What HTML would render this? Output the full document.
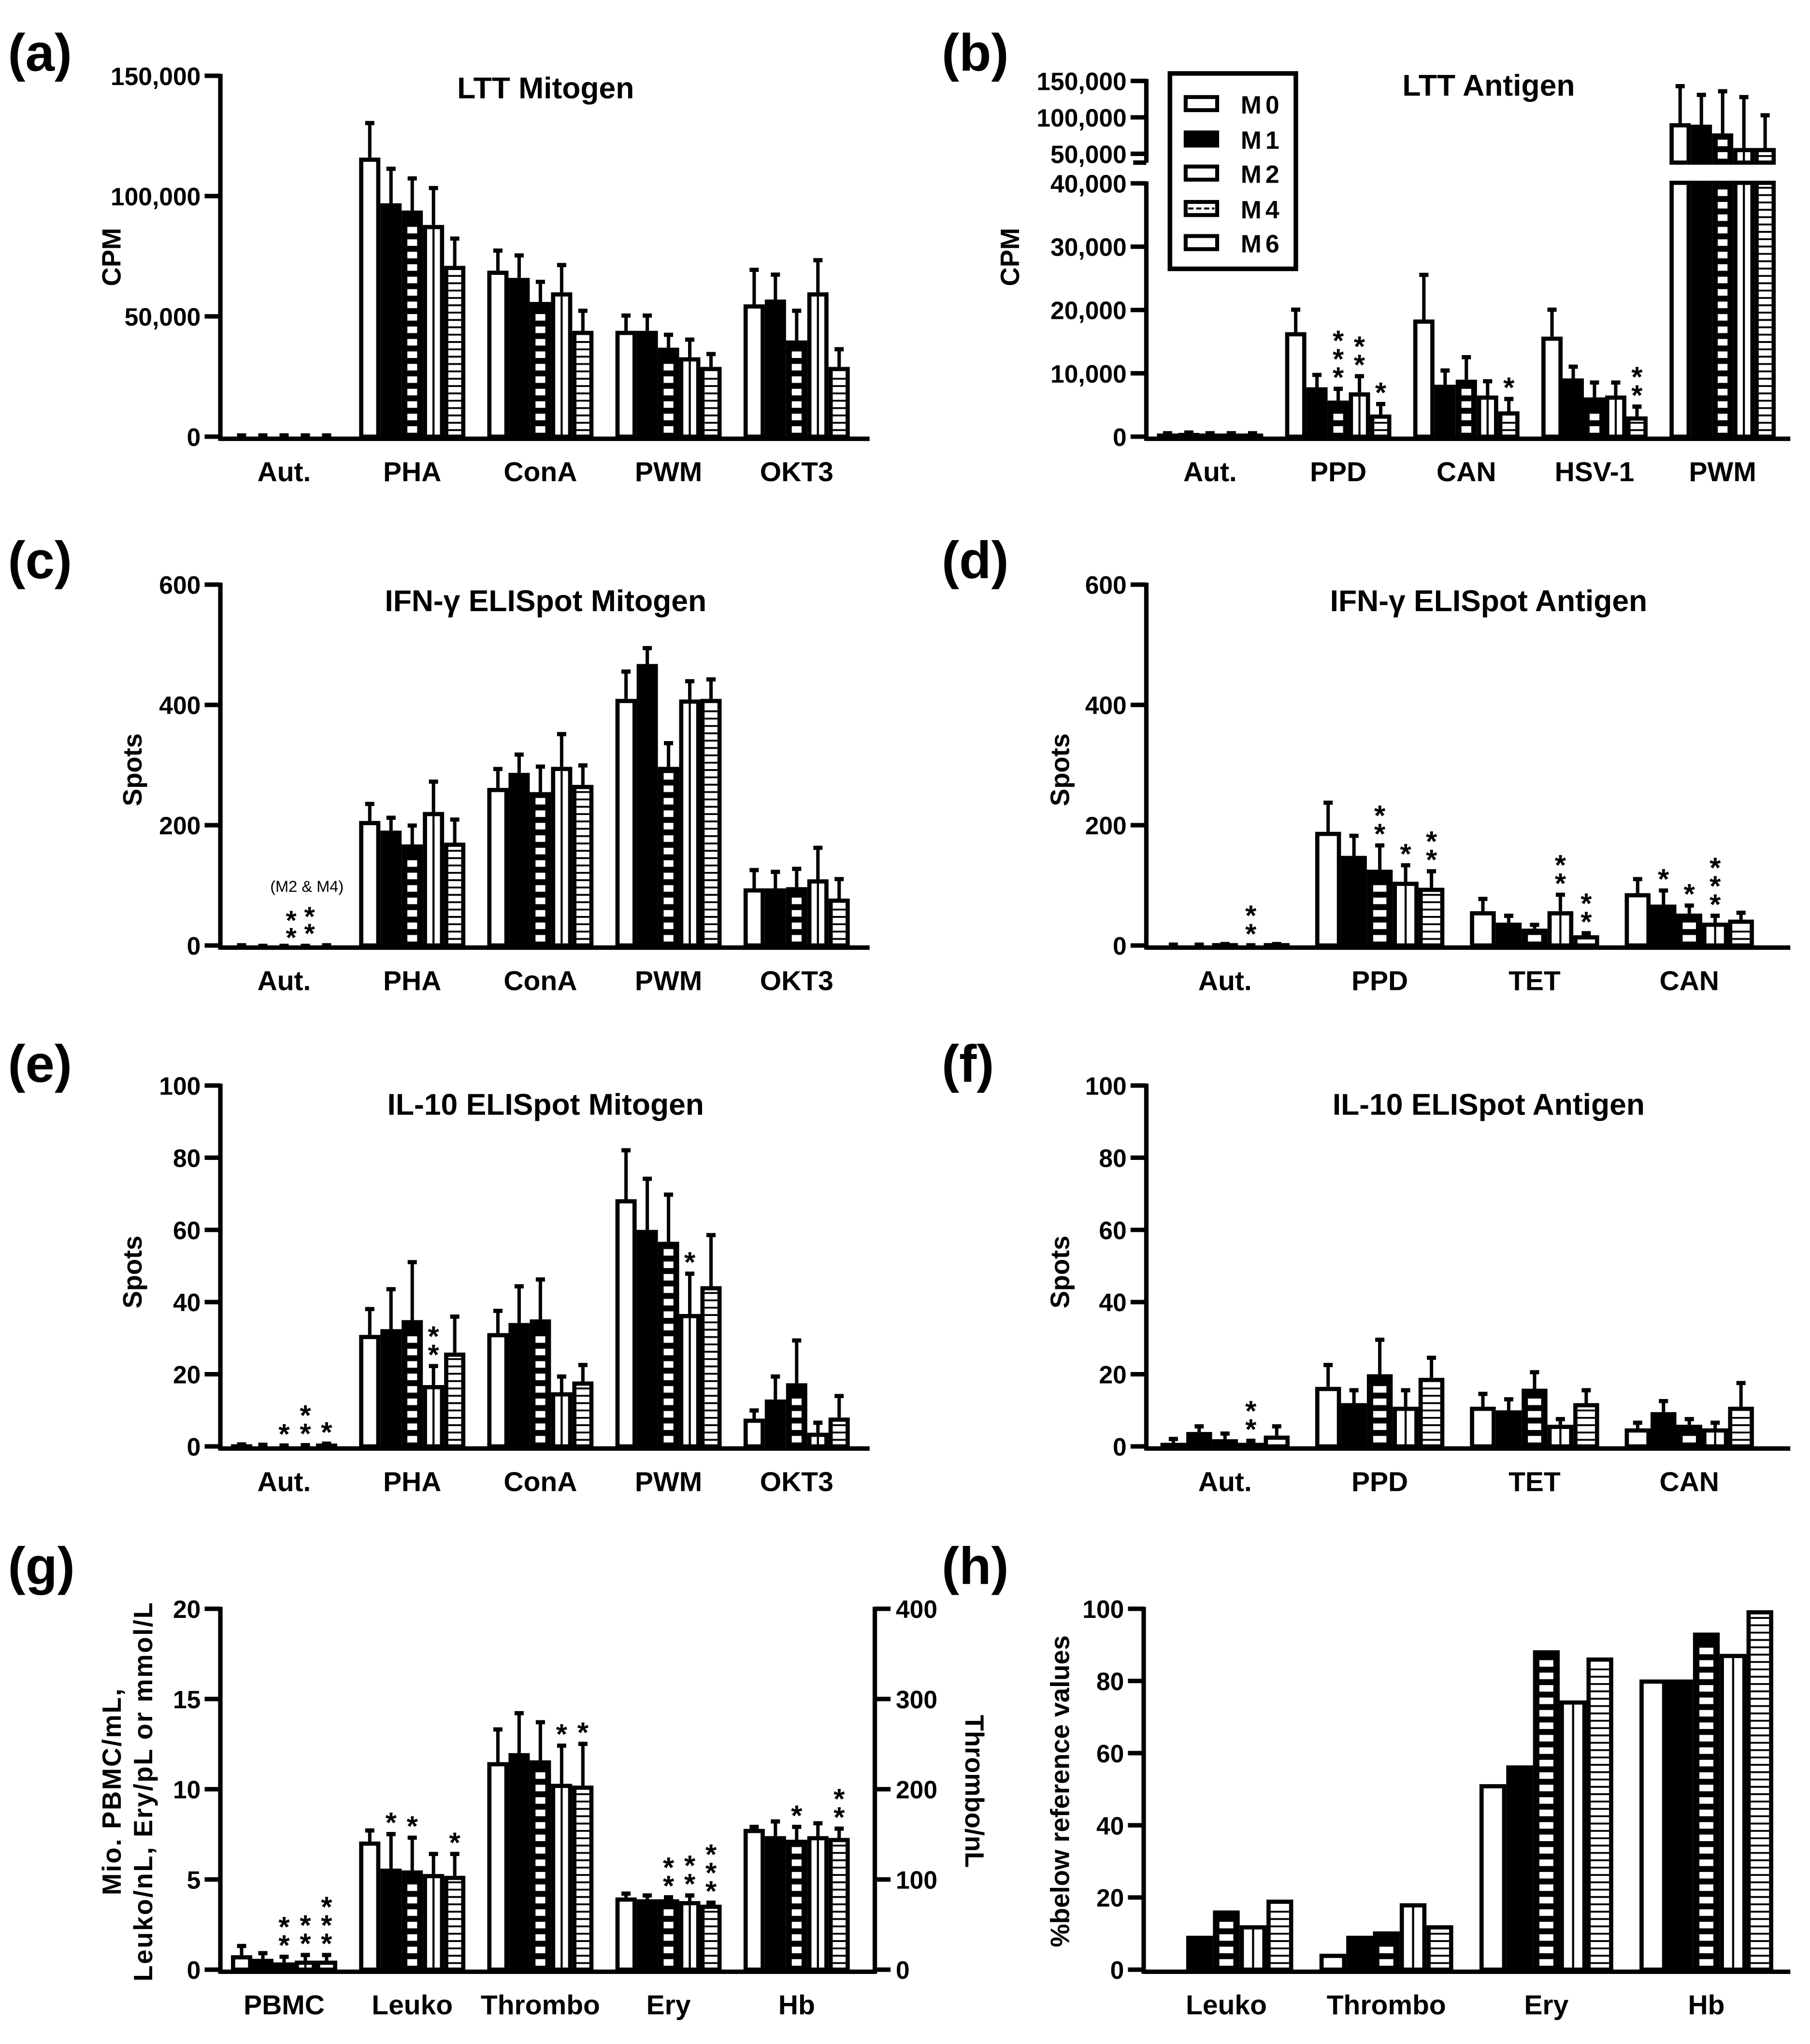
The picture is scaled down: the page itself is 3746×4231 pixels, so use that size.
<!DOCTYPE html>
<html><head><meta charset="utf-8"><style>
html,body{margin:0;padding:0;background:#fff;}
svg{display:block;}
text{font-family:"Liberation Sans",Arial,sans-serif;font-weight:bold;fill:#000;}
</style></head>
<body>
<svg id="fig" width="3746" height="4231" viewBox="0 0 1380 1558.7" xmlns="http://www.w3.org/2000/svg">
<rect width="1380" height="1558.7" fill="#fff"/>
</svg>
<script>
// ---------- data ----------
const seriesNames = ["M0","M1","M2","M4","M6"];
// (a) LTT Mitogen
const aCats = ["Aut.","PHA","ConA","PWM","OKT3"];
const aMeans = [[600,600,600,600,600],[116000,97000,94000,88000,71000],[69000,66000,56000,60000,44000],[44000,44000,37000,33000,29000],[55000,57000,40000,60000,29000]];
const aErrs  = [[1200,1200,1200,1200,1200],[131000,112000,108000,104000,83000],[78000,76000,65000,72000,53000],[51000,51000,43000,41000,35000],[70000,68000,53000,74000,37000]];
const aTicks = [0,50000,100000,150000];
const aTickLabels = ["0","50,000","100,000","150,000"];
// (b) LTT Antigen
const bCats = ["Aut.","PPD","CAN","HSV-1","PWM"];
const bMeans = [[500,600,500,500,500],[16500,7800,5700,7000,3500],[18500,8200,9000,6500,4000],[15800,9200,6200,6500,3200],[92000,90000,78000,58000,58000]];
const bErrs  = [[800,900,800,800,800],[20300,10000,7800,9800,5400],[25800,10700,12800,9000,6200],[20300,11300,8800,8800,5000],[145000,133000,138000,130000,105000]];
const bTicks = [0,10000,20000,30000,40000,50000,100000,150000];
const bTickLabels = ["0","10,000","20,000","30,000","40,000","50,000","100,000","150,000"];
// (c) IFN-g Mitogen
const cCats = ["Aut.","PHA","ConA","PWM","OKT3"];
const cMeans = [[2,1,1,1,2],[207,191,168,222,171],[262,287,255,297,267],[410,468,297,409,410],[95,95,97,110,78]];
const cErrs  = [[3,2,2,2,3],[238,215,202,275,212],[296,320,300,354,302],[458,497,339,442,445],[128,125,130,165,113]];
const cTicks = [0,200,400,600];
// (d) IFN-g Antigen
const dCats = ["Aut.","PPD","TET","CAN"];
const dMeans = [[3,3,4,2,4],[189,149,126,106,96],[57,38,28,57,17],[87,68,53,38,43]];
const dErrs  = [[4,4,5,3,5],[240,185,169,136,126],[80,52,37,87,23],[113,94,69,52,57]];
// (e) IL-10 Mitogen
const eCats = ["Aut.","PHA","ConA","PWM","OKT3"];
const eMeans = [[0.6,0.5,0.4,0.4,0.8],[30.9,32.5,35,17,26],[31.4,34.2,35.2,15,18],[68.5,60,56.7,36.7,44.4],[7.7,13,17.5,3.8,8]];
const eErrs  = [[1,0.9,0.7,0.8,1.2],[38.5,44,51.5,22.7,36.4],[38,44.8,46.7,19.8,23],[82.5,74.6,70.2,48.3,59],[10.4,19.8,29.8,7,14.4]];
const eTicks = [0,20,40,60,80,100];
// (f) IL-10 Antigen
const fCats = ["Aut.","PPD","TET","CAN"];
const fMeans = [[1,4,2,1,3],[16.5,12,20,11,19],[11,10,16,6,12],[5,9.5,6,5,11]];
const fErrs  = [[2.5,6,4,2,6],[23,16,30,16,25],[15,13.5,21,8,16],[7,13,8,7,18]];
// (g) blood counts
const gCats = ["PBMC","Leuko","Thrombo","Ery","Hb"];
const gMeans = [[0.8,0.6,0.4,0.5,0.5],[7.1,5.6,5.5,5.3,5.2],[11.5,12.0,11.6,10.3,10.2],[4.0,3.9,3.9,3.8,3.6],[7.8,7.4,7.2,7.4,7.3]];
const gErrs  = [[1.4,1.0,0.8,0.9,0.9],[7.8,7.6,7.4,6.5,6.5],[13.4,14.3,13.8,12.5,12.6],[4.3,4.2,4.1,4.2,3.8],[8.0,8.3,8.0,8.2,7.9]];
const gTicks = [0,5,10,15,20];
const gRightTicks = [0,100,200,300,400];
// (h) % below reference
const hCats = ["Leuko","Thrombo","Ery","Hb"];
const hMeans = [[0,9.4,16.4,12.3,19.4],[4.4,9.4,10.6,18.4,12.3],[51.4,56.6,88.5,74.6,86.5],[80.4,80.4,93.4,87.5,99.6]];
const hTicks = [0,20,40,60,80,100];
// significance stars: [category, series, count]
const bStars = [[1,2,3],[1,3,2],[1,4,1],[2,4,1],[3,4,2]];
const dStars = [[0,3,2],[1,2,2],[1,3,1],[1,4,2],[2,3,2],[2,4,2],[3,1,1],[3,2,1],[3,3,3]];
const eStars = [[0,2,1],[0,3,2],[0,4,1],[1,3,2],[3,3,1]];
const fStars = [[0,3,2]];
const gStars = [[0,2,2],[0,3,2],[0,4,3],[1,1,1],[1,2,1],[1,4,1],[2,3,1],[2,4,1],[3,2,2],[3,3,2],[3,4,3],[4,2,1],[4,4,2]];

// ---------- drawing ----------
const NS = "http://www.w3.org/2000/svg";
const svg = document.getElementById("fig");
function el(tag, attrs, parent){
  const e = document.createElementNS(NS, tag);
  for (const k in attrs) e.setAttribute(k, attrs[k]);
  (parent||svg).appendChild(e);
  return e;
}
function txt(str, x, y, size, anchor, parent, extra){
  const t = el("text", Object.assign({x:x, y:y, "font-size":size, "text-anchor":anchor||"middle"}, extra||{}), parent);
  t.textContent = str;
  return t;
}

function drawBar(g, x, w, yTop, yBot, type){
  if (yBot - yTop < 0.5) yTop = yBot - 0.5;
  const r = el("rect", {x:x+1.6, y:yTop+1.6, width:w-3.2, height:Math.max(0,yBot-yTop-1.6), fill:(type===1||type===2)?"#000":"#fff", stroke:"#000", "stroke-width":3.2}, g);
  
  
  const ix = x+3.2, iw = w-6.4;
  if (type===2){
    for (let yy = yBot-3; yy - 5 > yTop+4; yy -= 9.5){
      el("rect", {x:ix+iw*0.12, y:yy-5, width:iw*0.76, height:5, fill:"#fff"}, g);
    }
  } else if (type===3){
    el("line", {x1:x+w/2, x2:x+w/2, y1:yTop+3, y2:yBot, stroke:"#000", "stroke-width":1.6}, g);
  } else if (type===4){
    for (let yy = yBot-5; yy > yTop+4; yy -= 5.6){
      el("line", {x1:ix, x2:ix+iw, y1:yy, y2:yy, stroke:"#000", "stroke-width":1.4}, g);
    }
  }
}
function drawErr(g, cx, y1, y2){
  el("line", {x1:cx, x2:cx, y1:y1, y2:y2, stroke:"#000", "stroke-width":2.6}, g);
  el("line", {x1:cx-3.5, x2:cx+3.5, y1:y2+1.2, y2:y2+1.2, stroke:"#000", "stroke-width":3.2}, g);
}
function drawStars(g, cx, yStart, n){
  for (let k=0;k<n;k++){
    const t = txt("*", cx, yStart - k*14 + 12, 22, "middle", g);
    
    
  }
}

function panel(o){
  const g = el("g", {});
  
  
  const L = txt(o.letter, o.letterX, o.letterY, 40, "start", g);
  
  
  if (o.title){
    const T = txt(o.title, o.titleX, o.titleY, 23, "middle", g);
    
    
  }
  const nC = o.cats.length;
  for (let c=0;c<nC;c++){
    const cx = o.cx0 + c*o.pitch;
    for (let s=0;s<5;s++){
      const x = cx + (s-2.5)*o.bw;
      const v = o.means[c][s];
      if (o.broken && v > 45000){
        drawBar(g, x, o.bw, o.y(40000)-2, o.y0, s);
        drawBar(g, x, o.bw, o.y(v), o.breakBot, s);
      } else {
        drawBar(g, x, o.bw, o.y(v), o.y0, s);
      }
      if (o.errs){
        drawErr(g, x+o.bw/2, o.y(v), o.y(o.errs[c][s]));
      }
    }
    const cl = txt(o.cats[c], cx, o.y0+34, 21, "middle", g);
    
    
  }
  if (o.stars){
    o.stars.forEach(st=>{
      const c=st[0], s=st[1];
      const cx = o.cx0 + c*o.pitch + (s-2)*o.bw;
      drawStars(g, cx, o.y(o.errs[c][s]) - 12, st[2]);
    });
  }
  const ax = el("line", {x1:o.ax, x2:o.xEnd, y1:o.y0+1.6, y2:o.y0+1.6, stroke:"#000", "stroke-width":3.4}, g);
  
  
  if (o.broken){
    el("line", {x1:o.ax, x2:o.ax, y1:o.y0+3.2, y2:o.y(40000)-1.5, stroke:"#000", "stroke-width":3.4}, g);
    el("line", {x1:o.ax, x2:o.ax, y1:o.y(150000)-1.5, y2:o.breakBot, stroke:"#000", "stroke-width":3.4}, g);
    el("line", {x1:o.ax-10, x2:o.ax, y1:o.breakBot, y2:o.breakBot, stroke:"#000", "stroke-width":3.4}, g);
  } else {
    const ya = el("line", {x1:o.ax, x2:o.ax, y1:o.y0+3.2, y2:o.y(o.ticks[o.ticks.length-1])-1.5, stroke:"#000", "stroke-width":3.4}, g);
    
    
  }
  o.ticks.forEach((t,i)=>{
    const yy = o.y(t);
    el("line", {x1:o.ax-12, x2:o.ax, y1:yy, y2:yy, stroke:"#000", "stroke-width":3.4}, g);
    const tl = txt(o.tickLabels ? o.tickLabels[i] : String(t), o.ax-15, yy+7, 19, "end", g);
    
    
  });
  o.ylabel.forEach((lab, i)=>{
    const lx = o.ylabelX + i*24;
    const yl = txt(lab, lx, o.ylabelY, 20, "middle", g, {transform:`rotate(-90 ${lx} ${o.ylabelY})`, "letter-spacing": o.ls||0});
    
    
  });
  return g;
}

const L_AX = 168, R_AX = 874;
panel({name:"panel-a", letter:"(a)", letterX:6, letterY:54, title:"LTT Mitogen", titleX:416, titleY:75,
  cats:aCats, means:aMeans, errs:aErrs, ticks:aTicks, tickLabels:aTickLabels,
  y:v=>333 - v*275.2/150000, y0:333, ax:L_AX, xEnd:663, cx0:216.6, pitch:97.7, bw:16.2,
  ylabel:["CPM"], ylabelX:92, ylabelY:196});
const bY = v => v<=40000 ? 333 - v*48.3/10000 : 117.3 - (v-50000)*27.8/50000;
panel({name:"panel-b", letter:"(b)", letterX:718, letterY:54, title:"LTT Antigen", titleX:1135, titleY:73,
  cats:bCats, means:bMeans, errs:bErrs, ticks:bTicks, tickLabels:bTickLabels, broken:true, breakBot:124,
  y:bY, y0:333, ax:R_AX, xEnd:1365, cx0:922.6, pitch:97.7, bw:16.2, stars:bStars,
  ylabel:["CPM"], ylabelX:777, ylabelY:196});
(function(){
  const lg = el("g", {}, svg);
  
  
  el("rect", {x:892, y:56, width:96, height:149, fill:"#fff", stroke:"#000", "stroke-width":3.5}, lg);
  const ys = [79,106,132,159,185];
  seriesNames.forEach((n,i)=>{
    const sw = el("g", {}, lg);
    
    
    const y = ys[i];
    el("rect", {x:904, y:y-5, width:24, height:10, fill:(i===1)?"#000":"#fff", stroke:"#000", "stroke-width":3}, sw);
    if (i===3) el("line", {x1:906, x2:926, y1:y, y2:y, stroke:"#000", "stroke-width":1.5, "stroke-dasharray":"4 2"}, sw);
    txt(n, 946, y+7.5, 19, "start", sw, {"letter-spacing":"3"});
  });
})();
panel({name:"panel-c", letter:"(c)", letterX:6, letterY:441, title:"IFN-\u03b3 ELISpot Mitogen", titleX:416, titleY:466,
  cats:cCats, means:cMeans, errs:cErrs, ticks:cTicks,
  y:v=>721 - v*275.2/600, y0:721, ax:L_AX, xEnd:663, cx0:216.6, pitch:97.7, bw:16.2, stars:[],
  ylabel:["Spots"], ylabelX:108, ylabelY:587});
(function(){
  const a = txt("(M2 & M4)", 234, 680, 12, "middle", svg, {style:"font-weight:normal"});
  
  
  [[222,0],[236,-3]].forEach(p=>{ for(let k=0;k<2;k++){ const s=txt("*", p[0], 722 - k*13 + p[1], 21, "middle");
      } });
})();
panel({name:"panel-d", letter:"(d)", letterX:718, letterY:441, title:"IFN-\u03b3 ELISpot Antigen", titleX:1135, titleY:466,
  cats:dCats, means:dMeans, errs:dErrs, ticks:cTicks,
  y:v=>721 - v*275.2/600, y0:721, ax:R_AX, xEnd:1365, cx0:934, pitch:118, bw:19.7, stars:dStars,
  ylabel:["Spots"], ylabelX:815, ylabelY:587});
panel({name:"panel-e", letter:"(e)", letterX:6, letterY:825, title:"IL-10 ELISpot Mitogen", titleX:416, titleY:850,
  cats:eCats, means:eMeans, errs:eErrs, ticks:eTicks,
  y:v=>1103 - v*2.752, y0:1103, ax:L_AX, xEnd:663, cx0:216.6, pitch:97.7, bw:16.2, stars:eStars,
  ylabel:["Spots"], ylabelX:108, ylabelY:970});
panel({name:"panel-f", letter:"(f)", letterX:718, letterY:825, title:"IL-10 ELISpot Antigen", titleX:1135, titleY:850,
  cats:fCats, means:fMeans, errs:fErrs, ticks:eTicks,
  y:v=>1103 - v*2.752, y0:1103, ax:R_AX, xEnd:1365, cx0:934, pitch:118, bw:19.7, stars:fStars,
  ylabel:["Spots"], ylabelX:815, ylabelY:970});
panel({name:"panel-g", letter:"(g)", letterX:6, letterY:1208,
  cats:gCats, means:gMeans, errs:gErrs, ticks:gTicks,
  y:v=>1502 - v*13.76, y0:1502, ax:L_AX, xEnd:667, cx0:216.6, pitch:97.7, bw:16.2, stars:gStars,
  ylabel:["Mio. PBMC/mL,","Leuko/nL, Ery/pL or mmol/L"], ylabelX:92, ylabelY:1366, ls:"1"});
(function(){
  const g = el("g", {});
  
  
  const RX = 667;
  el("line", {x1:RX, x2:RX, y1:1502+3.2, y2:1502-275.2-1.5, stroke:"#000", "stroke-width":3.4}, g);
  gRightTicks.forEach(t=>{
    const yy = 1502 - t*275.2/400;
    el("line", {x1:RX, x2:RX+12, y1:yy, y2:yy, stroke:"#000", "stroke-width":3.4}, g);
    const tl = txt(String(t), RX+16, yy+7, 19, "start", g);
    
    
  });
  const rl = txt("Thrombo/nL", 736, 1366, 20, "middle", g, {transform:"rotate(90 736 1366)"});
  
  
})();
panel({name:"panel-h", letter:"(h)", letterX:718, letterY:1208,
  cats:hCats, means:hMeans, errs:null, ticks:hTicks,
  y:v=>1502 - v*2.752, y0:1502, ax:R_AX-2, xEnd:1365, cx0:935, pitch:122, bw:20.4,
  ylabel:["%below reference values"], ylabelX:815, ylabelY:1366});
</script>
</body></html>
